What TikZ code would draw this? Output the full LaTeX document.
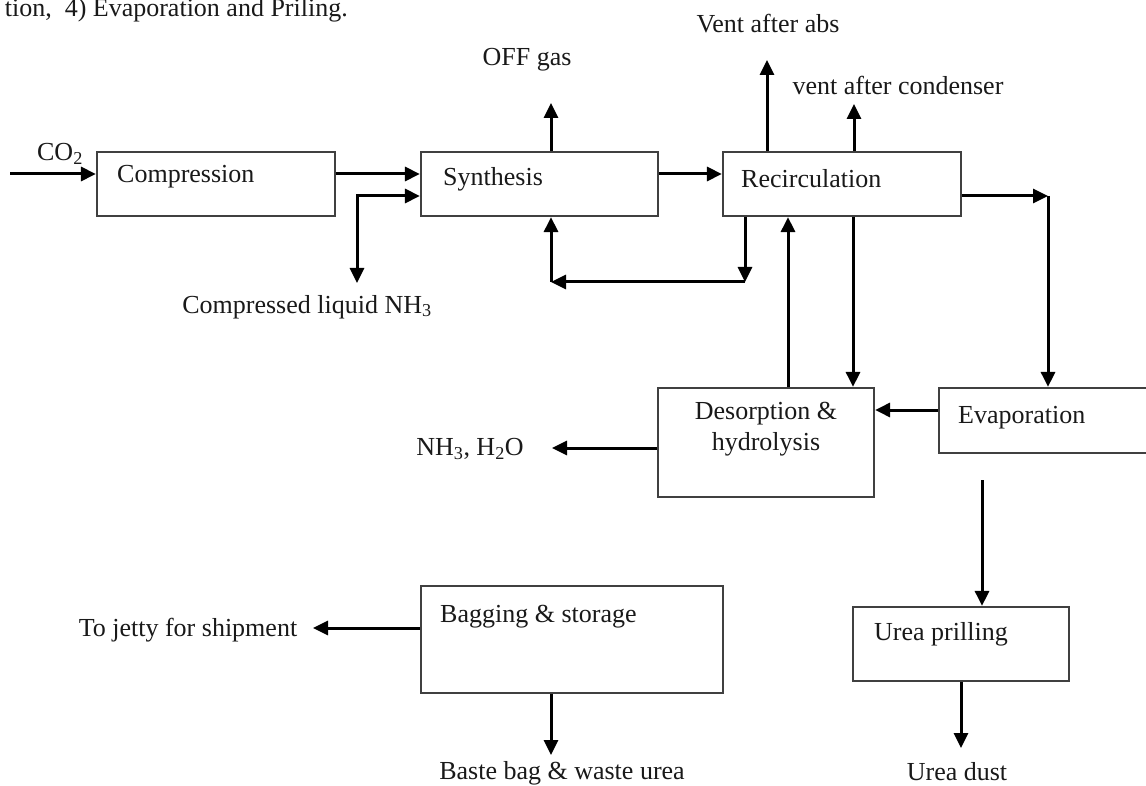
\documentclass[tikz,border=0pt]{standalone}
\usepackage{fontspec}
\setmainfont{Liberation Serif}
\usetikzlibrary{arrows.meta}

\tikzset{
  unit/.style={draw=black!75, line width=2.2pt, rectangle, inner sep=0pt},
  flow/.style={-{Triangle[length=15pt,width=14pt]}, line width=3pt},
  both/.style={{Triangle[length=15pt,width=14pt]}-{Triangle[length=15pt,width=14pt]}, line width=3pt},
  tag/.style={font=\fontsize{26}{31}\selectfont, inner sep=0pt, text=black!90}
}

\begin{document}
\begin{tikzpicture}[x=1pt,y=-1pt]
      \useasboundingbox (0,0) rectangle (1146,786);
      \node[tag, anchor=base east] (cap) at (348,17) {tion,\ \ 4) Evaporation and Priling.};

      % process units
      \node[unit, minimum width=238pt, minimum height=64pt] (comp) at (216,184) {};
      \node[unit, minimum width=237pt, minimum height=64pt] (synth) at (539.5,184) {};
      \node[unit, minimum width=238pt, minimum height=64pt] (recirc) at (842,184) {};
      \node[unit, minimum width=216pt, minimum height=109pt] (desorp) at (766,442.5) {};
      \node[unit, minimum width=240pt, minimum height=65pt] (evap) at (1059,420.5) {};
      \node[unit, minimum width=216pt, minimum height=74pt] (prill) at (961,644) {};
      \node[unit, minimum width=302pt, minimum height=107pt] (bag) at (572,639.5) {};

      \node[tag, anchor=west] (compT) at (117,177) {Compression};
      \node[tag, anchor=west] (synthT) at (443,179) {Synthesis};
      \node[tag, anchor=west] (recircT) at (741,179) {Recirculation};
      \node[tag, align=center] (desorpT) at (766,429) {Desorption \&\\hydrolysis};
      \node[tag, anchor=west] (evapT) at (958,418) {Evaporation};
      \node[tag, anchor=west] (prillT) at (874,634) {Urea prilling};
      \node[tag, anchor=west] (bagT) at (440,617) {Bagging \& storage};

      % streams in and out
      \node[tag] (co2) at (60,154) {CO\textsubscript{2}};
      \node[tag] (nh3) at (307,307) {Compressed liquid NH\textsubscript{3}};
      \node[tag] (off) at (527,60) {OFF gas};
      \node[tag] (abs) at (768,24) {Vent after abs};
      \node[tag] (cond) at (898,85) {vent after condenser};
      \node[tag] (water) at (470,449) {NH\textsubscript{3}, H\textsubscript{2}O};
      \node[tag] (dust) at (957,772) {Urea dust};
      \node[tag] (jetty) at (188,630) {To jetty for shipment};
      \node[tag] (waste) at (562,773) {Baste bag \& waste urea};

      \coordinate (co2in) at (10,174);
      \coordinate (nh3end) at (357,283);
      \coordinate (j1) at (357,196);
      \coordinate (offtip) at (551,103);
      \coordinate (abstip) at (767,60);
      \coordinate (condtip) at (854,104);
      \coordinate (rturn) at (1048,196);
      \coordinate (rdown) at (745,282);
      \coordinate (sret) at (551,282);
      \coordinate (watertip) at (552,448);
      \coordinate (evout) at (982,480);
      \coordinate (dusttip) at (961,748);
      \coordinate (jettytip) at (313,628);
      \coordinate (wastetip) at (551,755);

      \begin{scope}
        \draw[flow] (co2in) -- (co2in -| comp.west);
        \draw[flow] (comp.east |- co2in) -- (synth.west |- co2in);
        \draw[both] (nh3end) -- (j1) -- (j1 -| synth.west);
        \draw[flow] (offtip |- synth.north) -- (offtip);
        \draw[flow] (synth.east |- co2in) -- (recirc.west |- co2in);
        \draw[flow] (abstip |- recirc.north) -- (abstip);
        \draw[flow] (condtip |- recirc.north) -- (condtip);
        \draw[flow] (recirc.east |- rturn) -- (rturn);
        \draw[flow] (rturn) -- (rturn |- evap.north);
        \draw[flow] (rdown |- recirc.south) -- (rdown);
        \draw[flow] (rdown) -- (sret);
        \draw[flow] (sret) -- (sret |- synth.south);
        \draw[flow] ([xshift=11pt]recirc.south) -- ([xshift=11pt]recirc.south |- desorp.north);
        \draw[flow] ([xshift=22pt]desorp.north) -- ([xshift=22pt]desorp.north |- recirc.south);
        \draw[flow] ([yshift=10.5pt]evap.west) -- ([yshift=10.5pt]evap.west -| desorp.east);
        \draw[flow] (watertip -| desorp.west) -- (watertip);
        \draw[flow] (evout) -- (evout |- prill.north);
        \draw[flow] (prill.south) -- (dusttip);
        \draw[flow] (jettytip -| bag.west) -- (jettytip);
        \draw[flow] (wastetip |- bag.south) -- (wastetip);
      \end{scope}
    \end{tikzpicture}
\end{document}
